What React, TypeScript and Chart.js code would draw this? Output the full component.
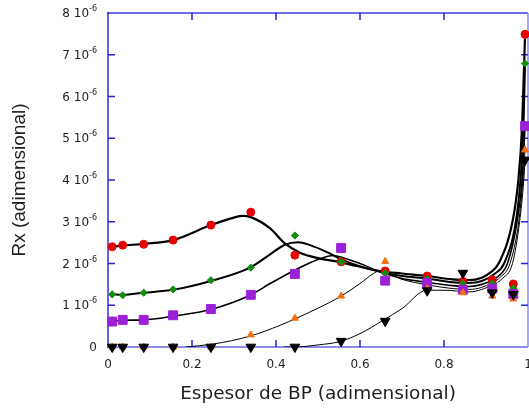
import { useEffect, useRef } from "react";
import { Chart, registerables } from "chart.js";

Chart.register(...registerables);

// ---- data (y values in units of 10^-6) ----
const MARKER_X = [0.01, 0.035, 0.085, 0.155, 0.245, 0.34, 0.445, 0.555, 0.66, 0.76, 0.845, 0.915, 0.965, 0.993];
const RED_PTS = [2.40, 2.44, 2.46, 2.56, 2.92, 3.23, 2.20, 2.04, 1.82, 1.70, 1.57, 1.61, 1.51, 7.49];
const GREEN_PTS = [1.26, 1.24, 1.30, 1.38, 1.60, 1.90, 2.67, 2.04, 1.77, 1.63, 1.52, 1.52, 1.41, 6.79];
const PURPLE_PTS = [0.61, 0.65, 0.65, 0.76, 0.91, 1.25, 1.75, 2.37, 1.59, 1.53, 1.37, 1.40, 1.27, 5.29];
const ORANGE_PTS = [0, 0, 0, 0, 0, 0.29, 0.69, 1.22, 2.05, 1.40, 1.30, 1.22, 1.15, 4.72];
const BLACK_PTS = [0, 0, 0, 0, 0, 0, 0, 0.14, 0.62, 1.35, 1.77, 1.30, 1.26, 4.48];

// fitted curves
const RED_FIT_X = [0.01, 0.035, 0.085, 0.155, 0.245, 0.30, 0.32, 0.34, 0.386, 0.421, 0.457, 0.50, 0.544, 0.592, 0.648, 0.70, 0.76, 0.82, 0.86, 0.89, 0.91, 0.93, 0.963, 0.977, 0.986, 0.993];
const RED_FIT_Y = [2.40, 2.43, 2.47, 2.56, 2.92, 3.10, 3.14, 3.11, 2.84, 2.48, 2.26, 2.13, 2.05, 1.94, 1.82, 1.76, 1.70, 1.62, 1.60, 1.66, 1.78, 2.0, 3.0, 4.0, 5.3, 7.5];
const GREEN_FIT_X = [0.01, 0.035, 0.085, 0.155, 0.245, 0.338, 0.386, 0.421, 0.453, 0.481, 0.52, 0.56, 0.60, 0.648, 0.70, 0.76, 0.82, 0.86, 0.89, 0.92, 0.943, 0.971, 0.982, 0.989, 0.993];
const GREEN_FIT_Y = [1.26, 1.25, 1.30, 1.37, 1.58, 1.90, 2.22, 2.45, 2.51, 2.44, 2.28, 2.08, 1.93, 1.80, 1.70, 1.64, 1.55, 1.53, 1.58, 1.75, 2.0, 3.0, 4.0, 5.2, 6.8];
const PURPLE_FIT_X = [0.01, 0.035, 0.085, 0.155, 0.245, 0.338, 0.386, 0.433, 0.481, 0.512, 0.536, 0.56, 0.60, 0.648, 0.70, 0.76, 0.82, 0.86, 0.89, 0.93, 0.951, 0.974, 0.986, 0.993];
const PURPLE_FIT_Y = [0.62, 0.64, 0.65, 0.74, 0.90, 1.24, 1.52, 1.78, 2.02, 2.14, 2.19, 2.14, 2.0, 1.80, 1.64, 1.55, 1.47, 1.45, 1.50, 1.70, 2.0, 3.0, 4.0, 5.3];
const ORANGE_FIT_X = [0.185, 0.25, 0.338, 0.41, 0.449, 0.50, 0.552, 0.60, 0.632, 0.648, 0.70, 0.76, 0.82, 0.86, 0.89, 0.935, 0.957, 0.978, 0.988, 0.993];
const ORANGE_FIT_Y = [0.0, 0.07, 0.26, 0.52, 0.69, 0.93, 1.20, 1.52, 1.76, 1.83, 1.62, 1.49, 1.40, 1.38, 1.43, 1.68, 2.0, 3.0, 4.0, 4.7];
const BLACK_FIT_X = [0.42, 0.445, 0.50, 0.552, 0.60, 0.655, 0.70, 0.759, 0.80, 0.86, 0.89, 0.94, 0.963, 0.98, 0.99, 0.993];
const BLACK_FIT_Y = [0.0, 0.0, 0.05, 0.13, 0.32, 0.64, 0.92, 1.36, 1.36, 1.32, 1.38, 1.65, 2.0, 3.0, 4.0, 4.48];

const X_MIN = 0;
const X_MAX = 1;
const X_STEP = 0.2;
const Y_MIN = 0;
const Y_MAX = 8;
const Y_STEP = 1;
const Y_EXPONENT = "-6";

const X_TITLE = "Espesor de BP (adimensional)";
const Y_TITLE = "Rx (adimensional)";

const COLORS = {
  red: "#e60000",
  green: "#148c14",
  purple: "#9b20d8",
  orange: "#f2700f",
  black: "#000000",
};

const pts = (xs: number[], ys: number[]) => xs.map((x, i) => ({ x, y: ys[i] }));

const TEXT_FONT = "'DejaVu Sans', 'Liberation Sans', sans-serif";

const fmtX = (v: number) => String(Math.round(v * 10) / 10);

const framePlugin = {
  id: "frame",
  beforeDatasetsDraw(chart: any) {
    const { ctx, chartArea } = chart;
    const { left, right, top, bottom } = chartArea;
    const xs = chart.scales.x;
    const ys = chart.scales.y;
    const seg = (x1: number, y1: number, x2: number, y2: number, c: string, w: number) => {
      ctx.beginPath();
      ctx.strokeStyle = c;
      ctx.lineWidth = w;
      ctx.moveTo(x1, y1);
      ctx.lineTo(x2, y2);
      ctx.stroke();
    };
    ctx.save();
    seg(left - 1, top, right, top, "#6b6be6", 2);
    seg(right, top, right, bottom, "#8a8aec", 1.5);
    seg(left - 1, bottom, right, bottom, "#8c8ce8", 2);
    seg(left, top - 1, left, bottom + 1, "#2e2ee3", 1.5);
    const TL = 7;
    const tickC = "#2222d6";
    xs.ticks.forEach((t: any) => {
      const px = xs.getPixelForValue(t.value);
      if (px <= left + 1 || px >= right - 1) return;
      seg(px, bottom, px, bottom - TL, tickC, 1.5);
      seg(px, top, px, top + TL, tickC, 1.5);
    });
    ys.ticks.forEach((t: any) => {
      const py = ys.getPixelForValue(t.value);
      if (py <= top + 1 || py >= bottom - 1) return;
      seg(left, py, left + TL, py, tickC, 1.5);
      seg(right, py, right - TL, py, tickC, 1.5);
    });
    ctx.fillStyle = "#1e1e1e";
    // x tick labels
    ctx.textBaseline = "middle";
    ctx.textAlign = "center";
    ctx.font = `12px ${TEXT_FONT}`;
    xs.ticks.forEach((t: any) => {
      const px = xs.getPixelForValue(t.value);
      ctx.fillText(fmtX(t.value), px, bottom + 18);
    });
    // y tick labels with superscript exponent
    ctx.textAlign = "right";
    const rightEdge = left - 11;
    ys.ticks.forEach((t: any) => {
      const py = ys.getPixelForValue(t.value) + 1;
      if (t.value === 0) {
        ctx.font = `12px ${TEXT_FONT}`;
        ctx.fillText("0", rightEdge, py);
        return;
      }
      ctx.font = `8px ${TEXT_FONT}`;
      const supW = ctx.measureText(Y_EXPONENT).width;
      ctx.fillText(Y_EXPONENT, rightEdge, py - 5);
      ctx.font = `12px ${TEXT_FONT}`;
      ctx.fillText(`${t.value} 10`, rightEdge - supW, py);
    });
    ctx.restore();
  },
};

export default function App() {
  const ref = useRef<HTMLCanvasElement | null>(null);

  useEffect(() => {
    if (!ref.current) return;
    const markerSet = (label: string, ys: number[], color: string, style: string, radius: number, order: number, rotation = 0) => ({
      label,
      data: pts(MARKER_X, ys),
      showLine: false,
      pointStyle: style,
      pointRadius: radius,
      pointRotation: rotation,
      pointBackgroundColor: color,
      pointBorderColor: color,
      pointBorderWidth: 1,
      clip: false,
      order,
    });
    const fitSet = (label: string, xs: number[], ys: number[], width: number) => ({
      label,
      data: pts(xs, ys),
      showLine: true,
      borderColor: "#000",
      borderWidth: width,
      pointRadius: 0,
      cubicInterpolationMode: "monotone",
      fill: false,
      order: 10,
    });

    const chart = new Chart(ref.current, {
      type: "scatter",
      data: {
        datasets: [
          fitSet("fit red", RED_FIT_X, RED_FIT_Y, 2.2),
          fitSet("fit green", GREEN_FIT_X, GREEN_FIT_Y, 2),
          fitSet("fit purple", PURPLE_FIT_X, PURPLE_FIT_Y, 1.6),
          fitSet("fit orange", ORANGE_FIT_X, ORANGE_FIT_Y, 1),
          fitSet("fit black", BLACK_FIT_X, BLACK_FIT_Y, 1),
          markerSet("red", RED_PTS, COLORS.red, "circle", 4, 5),
          markerSet("green", GREEN_PTS, COLORS.green, "rectRot", 3.6, 4),
          markerSet("purple", PURPLE_PTS, COLORS.purple, "rect", 6.3, 3),
          markerSet("orange", ORANGE_PTS, COLORS.orange, "triangle", 4, 2),
          markerSet("black", BLACK_PTS, COLORS.black, "triangle", 5.6, 1, 180),
        ] as any,
      },
      options: {
        animation: false,
        responsive: false,
        events: [],
        layout: { autoPadding: false, padding: { top: 13, left: 0, right: 1, bottom: 0 } },
        plugins: { legend: { display: false }, tooltip: { enabled: false } },
        scales: {
          x: {
            type: "linear",
            min: X_MIN,
            max: X_MAX,
            grid: { display: false, drawTicks: false },
            border: { display: false },
            ticks: { stepSize: X_STEP, display: false },
            title: {
              display: true,
              text: X_TITLE,
              color: "#1e1e1e",
              font: { family: TEXT_FONT, size: 18.5 },
              padding: { top: 0, bottom: 3 },
            },
            afterFit(scale: any) {
              scale.height = 61;
              scale.paddingLeft = 0;
              scale.paddingRight = 0;
            },
          },
          y: {
            type: "linear",
            min: Y_MIN,
            max: Y_MAX,
            grid: { display: false, drawTicks: false },
            border: { display: false },
            ticks: { stepSize: Y_STEP, display: false },
            title: {
              display: true,
              text: Y_TITLE,
              color: "#1e1e1e",
              font: { family: "'Liberation Sans', Arial, sans-serif", size: 19 },
              padding: { top: 8, bottom: 0 },
            },
            afterFit(scale: any) {
              scale.width = 108;
              scale.paddingTop = 0;
              scale.paddingBottom = 0;
            },
          },
        },
      } as any,
      plugins: [framePlugin as any],
    });
    return () => chart.destroy();
  }, []);

  return (
    <div style={{ position: "absolute", left: 0, top: 0, width: 529, height: 408, background: "#fff" }}>
      <canvas ref={ref} width={529} height={408} />
    </div>
  );
}
